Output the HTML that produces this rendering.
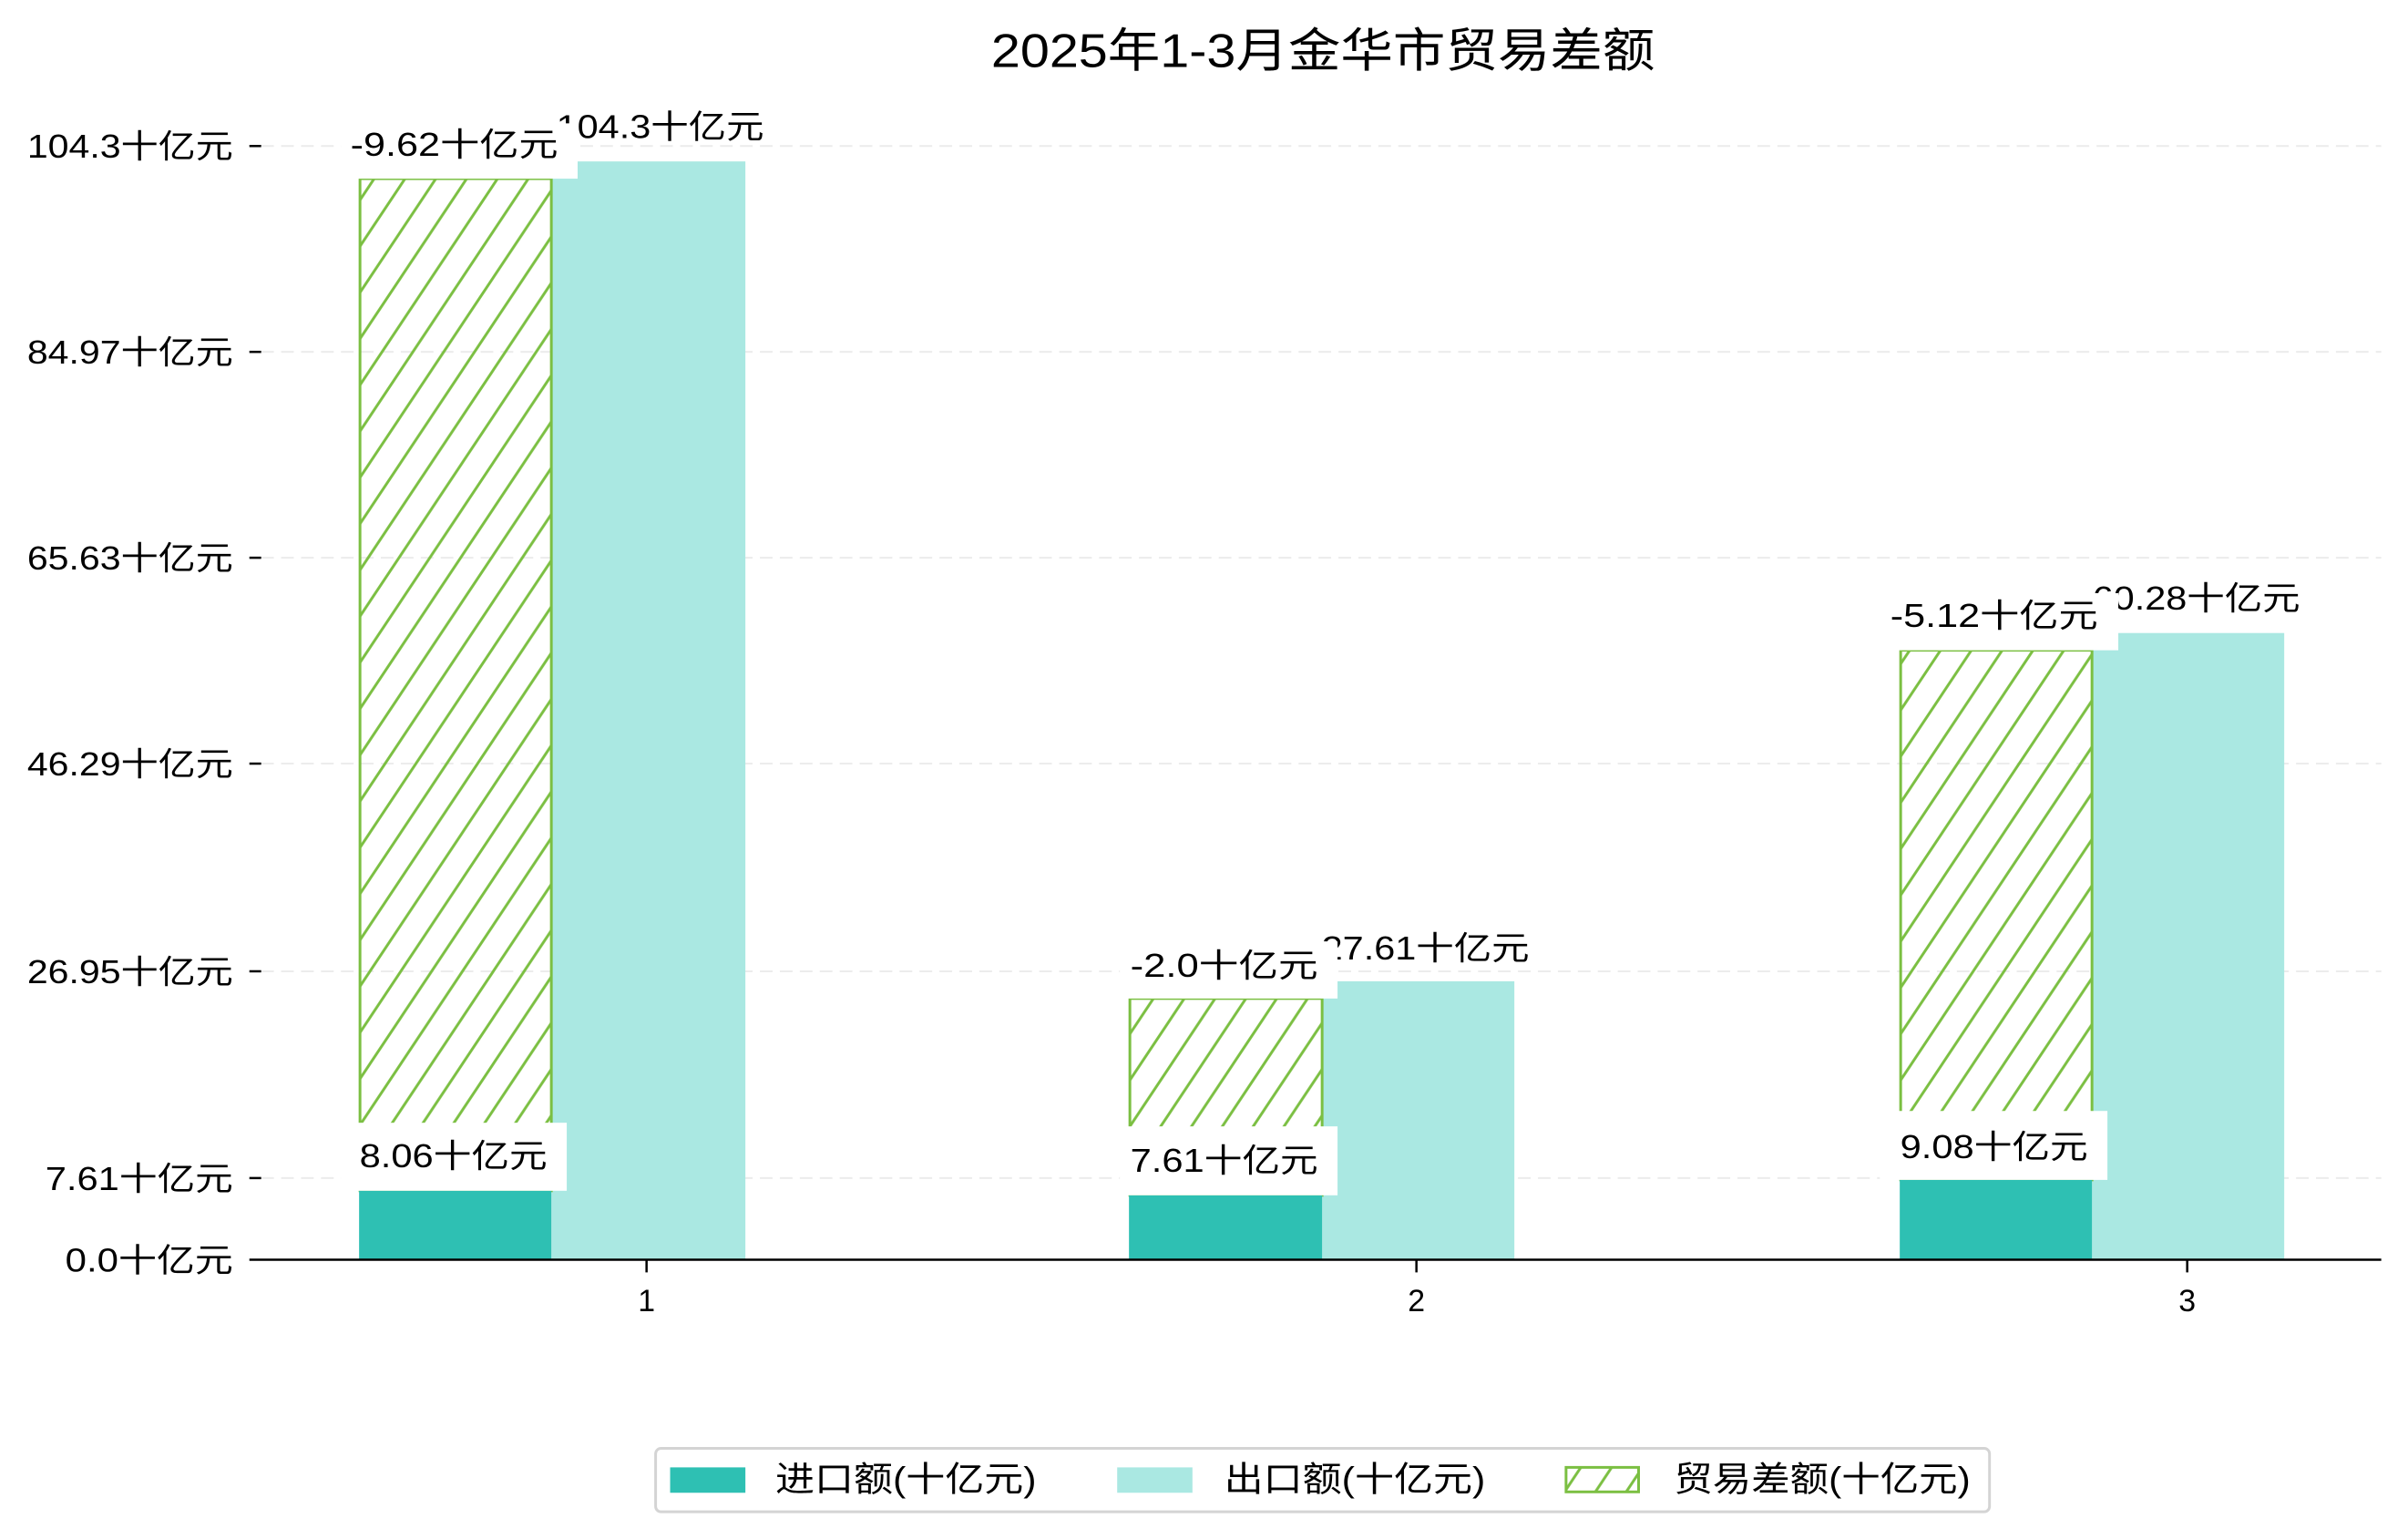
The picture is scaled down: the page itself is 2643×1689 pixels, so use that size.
<!DOCTYPE html>
<html><head><meta charset="utf-8"><style>
html,body{margin:0;padding:0;background:#fff;}
svg{display:block;font-family:"Liberation Sans","Noto Sans CJK SC",sans-serif;}
</style></head><body>
<svg width="2643" height="1689" viewBox="0 0 2643 1689" xmlns="http://www.w3.org/2000/svg">
<defs>
<pattern id="h" patternUnits="userSpaceOnUse" width="34" height="51">
<path d="M0,51 L34,0 M-17,25.5 L17,-25.5 M17,76.5 L51,25.5" stroke="#7bbf42" stroke-width="3" fill="none"/>
</pattern>
</defs>
<rect width="2643" height="1689" fill="#fff"/>
<g transform="scale(0.9953)">
<text x="1459" y="74" font-size="52" text-anchor="middle" textLength="732" lengthAdjust="spacingAndGlyphs">2025年1-3月金华市贸易差额</text>
<g stroke="#ececec" stroke-width="2" stroke-dasharray="14,8">
<line x1="288" y1="161" x2="2626" y2="161"/>
<line x1="288" y1="388" x2="2626" y2="388"/>
<line x1="288" y1="615" x2="2626" y2="615"/>
<line x1="288" y1="842" x2="2626" y2="842"/>
<line x1="288" y1="1071" x2="2626" y2="1071"/>
<line x1="288" y1="1299" x2="2626" y2="1299"/>
</g>
<g stroke="#000" stroke-width="2.5">
<line x1="275" y1="161" x2="288" y2="161"/><line x1="275" y1="388" x2="288" y2="388"/>
<line x1="275" y1="615" x2="288" y2="615"/><line x1="275" y1="842" x2="288" y2="842"/>
<line x1="275" y1="1071" x2="288" y2="1071"/><line x1="275" y1="1299" x2="288" y2="1299"/>
</g>
<g font-size="36" text-anchor="end">
<text x="257" y="174" textLength="227" lengthAdjust="spacingAndGlyphs">104.3十亿元</text>
<text x="257" y="401" textLength="227" lengthAdjust="spacingAndGlyphs">84.97十亿元</text>
<text x="257" y="628" textLength="227" lengthAdjust="spacingAndGlyphs">65.63十亿元</text>
<text x="257" y="855" textLength="227" lengthAdjust="spacingAndGlyphs">46.29十亿元</text>
<text x="257" y="1084" textLength="227" lengthAdjust="spacingAndGlyphs">26.95十亿元</text>
<text x="257" y="1312" textLength="207" lengthAdjust="spacingAndGlyphs">7.61十亿元</text>
<text x="257" y="1402" textLength="185" lengthAdjust="spacingAndGlyphs">0.0十亿元</text>
</g>
<g fill="#aae8e2">
<rect x="608" y="178" width="214" height="1211"/>
<rect x="1458" y="1082" width="212" height="307"/>
<rect x="2307" y="698" width="212" height="691"/>
</g>
<g fill="url(#h)" stroke="#7bbf42" stroke-width="3">
<rect x="397" y="197" width="211" height="1116"/>
<rect x="1246" y="1101" width="212" height="217"/>
<rect x="2096" y="717" width="211" height="584"/>
</g>
<g fill="#2ec0b3">
<rect x="396" y="1313" width="212" height="76"/>
<rect x="1245" y="1318" width="213" height="71"/>
<rect x="2095" y="1301" width="212" height="88"/>
</g>
<g font-size="36" text-anchor="middle">
<text x="728" y="152" textLength="229" lengthAdjust="spacingAndGlyphs">104.3十亿元</text>
<text x="1572" y="1058" textLength="229" lengthAdjust="spacingAndGlyphs">27.61十亿元</text>
<text x="2422" y="672" textLength="229" lengthAdjust="spacingAndGlyphs">60.28十亿元</text>
</g>
<g fill="#fff">
<rect x="376" y="136" width="261" height="61"/>
<rect x="1235" y="1038" width="240" height="63"/>
<rect x="2073" y="654" width="263" height="63"/>
<rect x="376" y="1238" width="249" height="75"/>
<rect x="1235" y="1242" width="240" height="76"/>
<rect x="2073" y="1225" width="251" height="76"/>
</g>
<g font-size="36" text-anchor="middle">
<text x="501" y="172" textLength="229" lengthAdjust="spacingAndGlyphs">-9.62十亿元</text>
<text x="1350" y="1077" textLength="207" lengthAdjust="spacingAndGlyphs">-2.0十亿元</text>
<text x="2199" y="691" textLength="229" lengthAdjust="spacingAndGlyphs">-5.12十亿元</text>
<text x="500" y="1287" textLength="207" lengthAdjust="spacingAndGlyphs">8.06十亿元</text>
<text x="1350" y="1292" textLength="207" lengthAdjust="spacingAndGlyphs">7.61十亿元</text>
<text x="2199" y="1277" textLength="207" lengthAdjust="spacingAndGlyphs">9.08十亿元</text>
</g>
<line x1="275" y1="1389" x2="2626" y2="1389" stroke="#000" stroke-width="2.5"/>
<g stroke="#000" stroke-width="2.5">
<line x1="713" y1="1389" x2="713" y2="1403"/>
<line x1="1562" y1="1389" x2="1562" y2="1403"/>
<line x1="2412" y1="1389" x2="2412" y2="1403"/>
</g>
<g font-size="34" text-anchor="middle">
<text x="713" y="1446">1</text><text x="1562" y="1446">2</text><text x="2412" y="1446">3</text>
</g>
<rect x="723" y="1597" width="1471" height="70" rx="6" fill="#fff" stroke="#d4d4d4" stroke-width="3"/>
<rect x="739" y="1618" width="83" height="28" fill="#2ec0b3"/>
<rect x="1232" y="1618" width="83" height="28" fill="#aae8e2"/>
<rect x="1727" y="1618" width="80" height="27" fill="url(#h)" stroke="#7bbf42" stroke-width="3"/>
<g font-size="38">
<text x="855" y="1644" textLength="288" lengthAdjust="spacingAndGlyphs">进口额(十亿元)</text>
<text x="1350" y="1644" textLength="288" lengthAdjust="spacingAndGlyphs">出口额(十亿元)</text>
<text x="1846" y="1644" textLength="327" lengthAdjust="spacingAndGlyphs">贸易差额(十亿元)</text>
</g>
</g>
</svg>
</body></html>
